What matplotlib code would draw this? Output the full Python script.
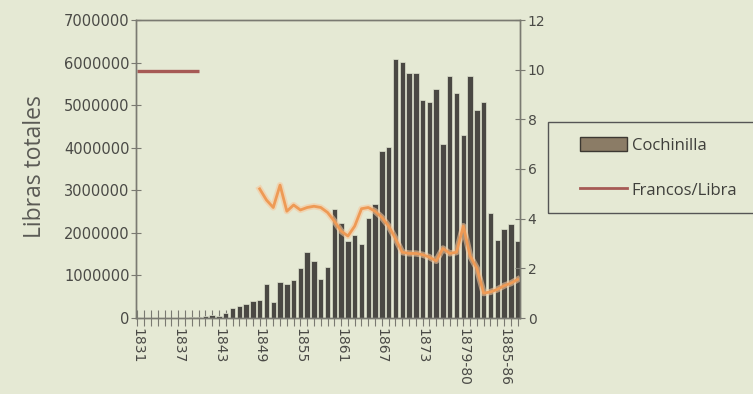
import numpy as np
import matplotlib.pyplot as plt
from matplotlib.patches import Patch, Rectangle
from matplotlib.lines import Line2D

# categories: single years up to 1878, then campaign years
years = [str(y) for y in range(1831, 1879)] + ['1879-80', '1880-81', '1881-82', '1882-83', '1883-84',
                                              '1884-85', '1885-86', '1886-87', '1887-88']

# libras totales de cochinilla (left axis)
cochinilla = [0, 0, 0, 0, 0, 0, 0, 0,
              20000, 30000, 40000, 70000, 50000, 110000,
              235000, 275000, 330000, 390000, 430000, 810000, 380000, 850000, 790000, 900000,
              1180000, 1550000, 1340000, 920000, 1190000, 2570000, 2240000, 1820000, 1940000, 1740000,
              2350000, 2670000, 3920000, 4020000, 6080000, 6020000, 5760000, 5760000, 5110000, 5070000,
              5390000, 4090000, 5690000, 5290000, 4300000, 5690000, 4880000, 5080000, 2470000, 1840000,
              2100000, 2210000, 1800000]

# francos por libra (right axis), nan = no data
francos = [9.95] * 10 + [np.nan] * 8 + [
    5.2, 4.75, 4.45, 5.35, 4.3, 4.55, 4.35, 4.45, 4.5, 4.45,
    4.25, 3.9, 3.5, 3.3, 3.7, 4.4, 4.45, 4.3, 4.05, 3.7,
    3.2, 2.65, 2.6, 2.6, 2.55, 2.45, 2.3, 2.8, 2.6, 2.65,
    3.7, 2.5, 2.0, 1.0, 1.05, 1.15, 1.3, 1.4, 1.55]

bg = '#e5e9d4'
axis_col = '#7a7a72'
txt_col = '#4a4a46'

fig = plt.figure(figsize=(7.53, 3.94), dpi=100, facecolor=bg)
ax = fig.add_axes([136/753, 1-318/394, 384/753, 298/394])
ax.set_facecolor(bg)

x = np.arange(len(years))
ax.bar(x, cochinilla, width=0.8, color='#4a4843', edgecolor='#dfe3cf', linewidth=0.5, zorder=2)
ax.set_xlim(-0.22, 56.35)
ax.set_ylim(0, 7000000)
ax.set_yticks(np.arange(0, 7000001, 1000000))
ax.yaxis.set_major_formatter(lambda v, p: f'{int(v)}')
ax.set_xticks(x)
ax.set_xticklabels([y if i % 6 == 0 else '' for i, y in enumerate(years)], rotation=-90)
ax.tick_params(axis='x', direction='inout', length=11, width=0.8, colors=axis_col,
               labelcolor=txt_col, labelsize=10, pad=2)
ax.tick_params(axis='y', direction='inout', length=7, width=0.8, colors=axis_col,
               labelcolor=txt_col, labelsize=10.5, pad=1)
for s in ax.spines.values():
    s.set_color(axis_col)
    s.set_linewidth(1)

ax2 = ax.twinx()
ax2.set_ylim(0, 12)
ax2.set_yticks(np.arange(0, 13, 2))
ax2.tick_params(axis='y', direction='inout', length=7, width=0.8, colors=axis_col,
                labelcolor=txt_col, labelsize=10, pad=2)
for s in ax2.spines.values():
    s.set_color(axis_col)
    s.set_linewidth(1)

fr = np.array(francos)
# early segment (red-brown) and later segment (orange with soft glow)
ax2.plot(x[:10], fr[:10], color='#a65a55', lw=2.4, solid_capstyle='butt')
ax2.plot(x[18:], fr[18:], color='#f6c79b', lw=4.5, alpha=0.6)
ax2.plot(x[18:], fr[18:], color='#ee9a55', lw=2.0)

fig.text(35/753, 1-167/394, 'Libras totales', rotation=90, ha='center', va='center',
         fontsize=16.5, color='#5a5a55', family='Open Sans')

# legend frame drawn separately, runs off the right edge
fig.patches.append(Rectangle((548/753, 1-213/394), 260/753, 91/394, transform=fig.transFigure,
                             facecolor='none', edgecolor='#555', linewidth=1, zorder=5))
handles = [Patch(facecolor='#8b7c66', edgecolor='#3c3832', linewidth=1),
           Line2D([], [], color='#a65a55', lw=2)]
leg = fig.legend(handles, ['Cochinilla', 'Francos/Libra'], loc='upper left',
                 bbox_to_anchor=(580/753, 1-137/394), frameon=False,
                 prop={'family': 'Open Sans', 'size': 12},
                 handlelength=2.8, handleheight=0.9, labelspacing=1.7, borderpad=0,
                 handletextpad=0.3, borderaxespad=0)
for t in leg.get_texts():
    t.set_color('#3f3f3b')

fig.savefig('out.png', dpi=100, facecolor=bg)
